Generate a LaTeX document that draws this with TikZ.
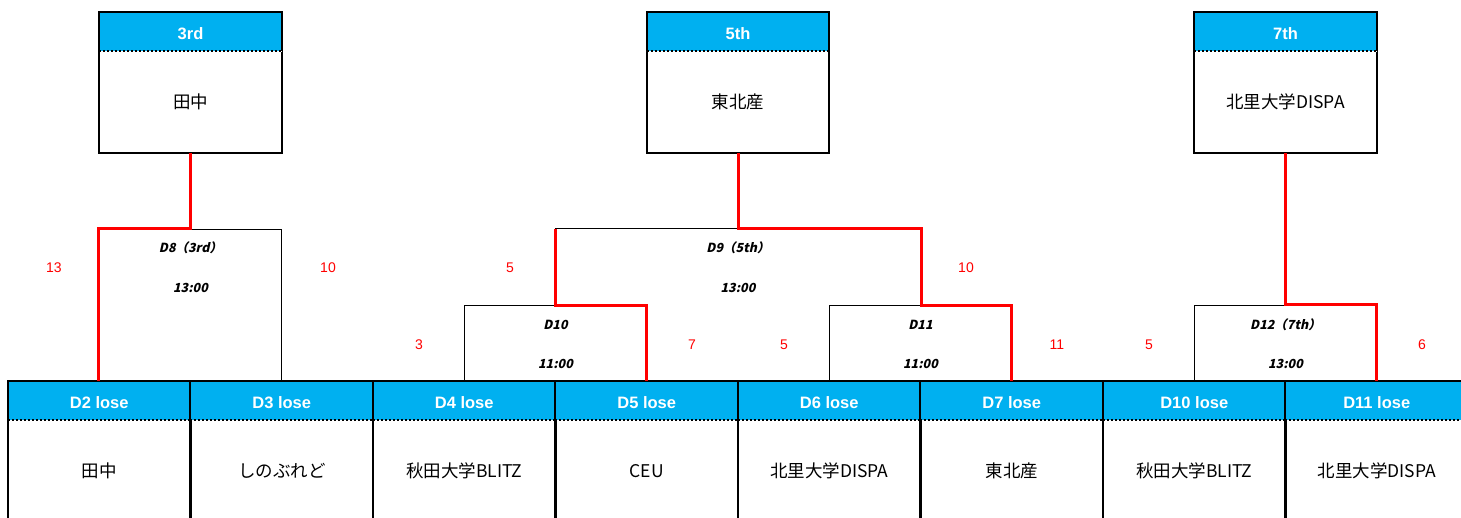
\documentclass[tikz,border=0pt]{standalone}
\usepackage{fontspec}
\setmainfont{Liberation Sans}
\newfontfamily\jp{Noto Sans CJK JP}
\newfontfamily\jpit[FakeSlant=0.22]{Noto Sans CJK JP}
\definecolor{hdblue}{HTML}{00B0F0}
\definecolor{winred}{HTML}{FF0000}

\begin{document}
\begin{tikzpicture}[x=1pt,y=-1pt,
    head/.style={rectangle,fill=hdblue,minimum width=182.5pt,minimum height=39pt,inner sep=0pt,text height=15pt,text depth=0pt,text=white,font=\bfseries\fontsize{16.5}{18}\selectfont},
    body/.style={rectangle,minimum width=182.5pt,minimum height=102pt,inner sep=0pt,font=\jp\fontsize{17.5}{20}\selectfont},
    frame/.style={draw=black,line width=2pt},
    sep/.style={line width=2pt,dotted,preaction={draw=white,solid}},
    match/.style={rectangle,draw=black,line width=1pt,inner sep=0pt,minimum width=182.5pt,minimum height=76pt},
    mline/.style={draw=black,line width=1pt},
    mtext/.style={font=\jpit\bfseries\fontsize{12.5}{14}\selectfont},
    score/.style={text=winred,font=\fontsize{14}{16}\selectfont},
    win/.style={draw=winred,line width=3pt}]

      \clip (0,0) rectangle (1461,517);

      \node[match,minimum height=152pt] (m8) at (190.5,305) {};
      \node[match,draw=none,minimum width=365pt] (m9) at (738,267) {};
      \node[match] (m10) at (555.5,343) {};
      \node[match] (m11) at (920.5,343) {};
      \node[match] (m12) at (1285.5,343) {};
      \draw[mline] (m9.south west) |- (m9.north east) -- (m9.south east);

      \foreach \i/\hd/\tm in {1/D2 lose/田中, 2/D3 lose/しのぶれど, 3/D4 lose/秋田大学BLITZ,
          4/D5 lose/CEU, 5/D6 lose/北里大学DISPA, 6/D7 lose/東北産,
          7/D10 lose/秋田大学BLITZ, 8/D11 lose/北里大学DISPA} {
        \node[head] (h\i) at ({8+182.5*(\i-0.5)},400.5) {\hd};
        \node[body] (b\i) at ({8+182.5*(\i-0.5)},471) {\tm};
        \draw[frame] (b\i.south west) -- (h\i.north west) -- (h\i.north east) -- (b\i.south east);
        \draw[sep] (h\i.south west) -- (h\i.south east);
      }

      \begin{scope}
        \node[head] (t3h) at (190.5,31.5) {3rd};
        \node[body] (t3)  at (190.5,102)  {田中};
        \node[head] (t5h) at (738,31.5)   {5th};
        \node[body] (t5)  at (738,102)    {東北産};
        \node[head] (t7h) at (1285.5,31.5) {7th};
        \node[body] (t7)  at (1285.5,102)  {北里大学DISPA};
        \draw[frame] (t3h.north west) rectangle (t3.south east);
        \draw[frame] (t5h.north west) rectangle (t5.south east);
        \draw[frame] (t7h.north west) rectangle (t7.south east);
        \draw[sep] (t3h.south west) -- (t3h.south east);
        \draw[sep] (t5h.south west) -- (t5h.south east);
        \draw[sep] (t7h.south west) -- (t7h.south east);
      \end{scope}

      \draw[win] (t3.south) |- (m8.north west) -- (m8.north west |- h1.north);
      \draw[win] (t5.south) |- (m9.north east) -- (m9.south east) -| (h6.north);
      \draw[win] (m9.north west) -- (m9.south west) -| (h4.north);
      \draw[win] (t7.south) -- (m12.north) -| (h8.north);

      \begin{scope}[every node/.style={mtext}]
        \node (m8a)  at (190.5,248) {D8（3rd）};
        \node (m8b)  at (190.5,288) {13:00};
        \node (m9a)  at (738,248)   {D9（5th）};
        \node (m9b)  at (738,288)   {13:00};
        \node (m10a) at (555.5,325) {D10};
        \node (m10b) at (555.5,364) {11:00};
        \node (m11a) at (920.5,325) {D11};
        \node (m11b) at (920.5,364) {11:00};
        \node (m12a) at (1285.5,325) {D12（7th）};
        \node (m12b) at (1285.5,364) {13:00};
      \end{scope}

      \begin{scope}[every node/.style={score}]
        \node (s8l)  at (54,268)   {13};
        \node (s8r)  at (328,268)  {10};
        \node (s9l)  at (510,268)  {5};
        \node (s9r)  at (966,268)  {10};
        \node (s10l) at (419,345)  {3};
        \node (s10r) at (692,345)  {7};
        \node (s11l) at (784,345)  {5};
        \node (s11r) at (1057,345) {11};
        \node (s12l) at (1149,345) {5};
        \node (s12r) at (1422,345) {6};
      \end{scope}

    \end{tikzpicture}
\end{document}
